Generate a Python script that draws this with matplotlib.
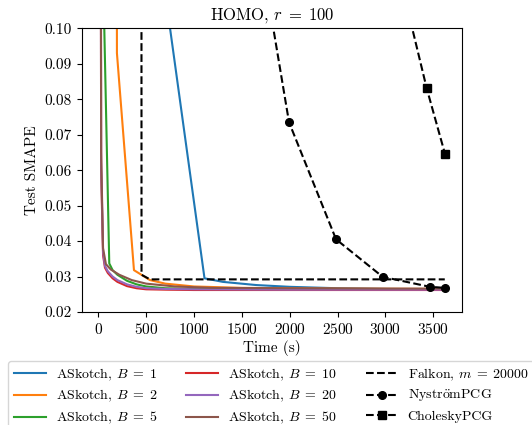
import matplotlib
matplotlib.use("Agg")
import matplotlib.pyplot as plt

plt.rcParams['font.family'] = ['cmr10', 'DejaVu Serif']
plt.rcParams['mathtext.fontset'] = 'cm'
plt.rcParams['axes.unicode_minus'] = False
plt.rcParams['axes.formatter.use_mathtext'] = True
plt.rcParams['font.size'] = 11

# ASkotch series
t_b1 = [400, 1110, 1300, 1650, 2000, 2500, 3000, 3600]
y_b1 = [0.1685, 0.0295, 0.0285, 0.0276, 0.0271, 0.0267, 0.0265, 0.0264]

t_b2 = [190, 195, 373, 540, 700, 1000, 1500, 2500, 3600]
y_b2 = [0.30, 0.093, 0.0318, 0.0290, 0.0280, 0.0272, 0.0268, 0.0266, 0.0265]

t_b5 = [60, 63, 115, 150, 200, 300, 400, 500, 700, 1000, 2000, 3600]
y_b5 = [0.30, 0.10, 0.0337, 0.0318, 0.0305, 0.0288, 0.0278, 0.0272, 0.0267, 0.0265, 0.0264, 0.0264]

t_b10 = [20, 30, 50, 70, 100, 150, 200, 300, 400, 500, 700, 1000, 2000, 3000, 3600]
y_b10 = [0.30, 0.060, 0.036, 0.0325, 0.0310, 0.0295, 0.0285, 0.0273, 0.0267, 0.0264, 0.0263, 0.0262, 0.0262, 0.0262, 0.0262]

t_b20 = [20, 30, 50, 70, 100, 150, 200, 300, 400, 500, 700, 1000, 2000, 3000, 3600]
y_b20 = [0.30, 0.062, 0.037, 0.0330, 0.0315, 0.0300, 0.0290, 0.0278, 0.0271, 0.0267, 0.0265, 0.0264, 0.0263, 0.0263, 0.0263]

t_b50 = [20, 30, 50, 80, 130, 220, 350, 500, 800, 1200, 2000, 3000, 3600]
y_b50 = [0.30, 0.065, 0.038, 0.0335, 0.0320, 0.0305, 0.0290, 0.0280, 0.0272, 0.0268, 0.0267, 0.0266, 0.0266]

# Baselines
t_falkon = [450, 452, 540, 1500, 2500, 3620]
y_falkon = [0.30, 0.0305, 0.0292, 0.0292, 0.0292, 0.0292]

t_nys = [1500, 1993, 2484, 2972, 3466, 3623]
y_nys = [0.153, 0.0735, 0.0405, 0.0299, 0.0271, 0.0268]

t_chol = [2940, 3431, 3623]
y_chol = [0.138, 0.0831, 0.0645]

xticks = [0, 500, 1000, 1500, 2000, 2500, 3000, 3500]
yticks = [0.02, 0.03, 0.04, 0.05, 0.06, 0.07, 0.08, 0.09, 0.10]
ytick_labels = ['0.02', '0.03', '0.04', '0.05', '0.06', '0.07', '0.08', '0.09', '0.10']

fig = plt.figure(figsize=(5.32, 4.25), dpi=100)
ax = fig.add_axes([81.7/532, 1 - 312/425, (462 - 81.7)/532, (312 - 28.3)/425])

lw = 1.5
ax.plot(t_b1, y_b1, color='#1f77b4', lw=lw, label=r'ASkotch, $B\;=\;1$')
ax.plot(t_b2, y_b2, color='#ff7f0e', lw=lw, label=r'ASkotch, $B\;=\;2$')
ax.plot(t_b5, y_b5, color='#2ca02c', lw=lw, label=r'ASkotch, $B\;=\;5$')
ax.plot(t_b10, y_b10, color='#d62728', lw=lw, label=r'ASkotch, $B\;=\;10$')
ax.plot(t_b20, y_b20, color='#9467bd', lw=lw, label=r'ASkotch, $B\;=\;20$')
ax.plot(t_b50, y_b50, color='#8c564b', lw=lw, label=r'ASkotch, $B\;=\;50$')
ax.plot(t_falkon, y_falkon, color='black', ls='--', lw=lw, label=r'Falkon, $m\;=\;20000$')
ax.plot(t_nys, y_nys, color='black', ls='--', lw=lw, marker='o', ms=5.5,
        label=r'$\mathrm{Nystr\ddot{o}mPCG}$')
ax.plot(t_chol, y_chol, color='black', ls='--', lw=lw, marker='s', ms=5.5, label='CholeskyPCG')

ax.set_xlim(-173, 3800)
ax.set_ylim(0.02, 0.10)
ax.set_xticks(xticks)
ax.set_yticks(yticks)
ax.set_yticklabels(ytick_labels)
ax.tick_params(labelsize=11)
ax.set_title(r'HOMO, $r\;=\;100$', fontsize=12)
ax.set_xlabel('Time (s)', fontsize=11, labelpad=2)
ax.set_ylabel('Test SMAPE', fontsize=11)

fig.legend(loc='upper left', bbox_to_anchor=(8/532, 1 - 361/425), ncol=3,
           fontsize=10, handlelength=2.3, handletextpad=0.72, columnspacing=2.1,
           labelspacing=0.4, borderaxespad=0.0, frameon=True)

fig.savefig('out.png', dpi=100)
